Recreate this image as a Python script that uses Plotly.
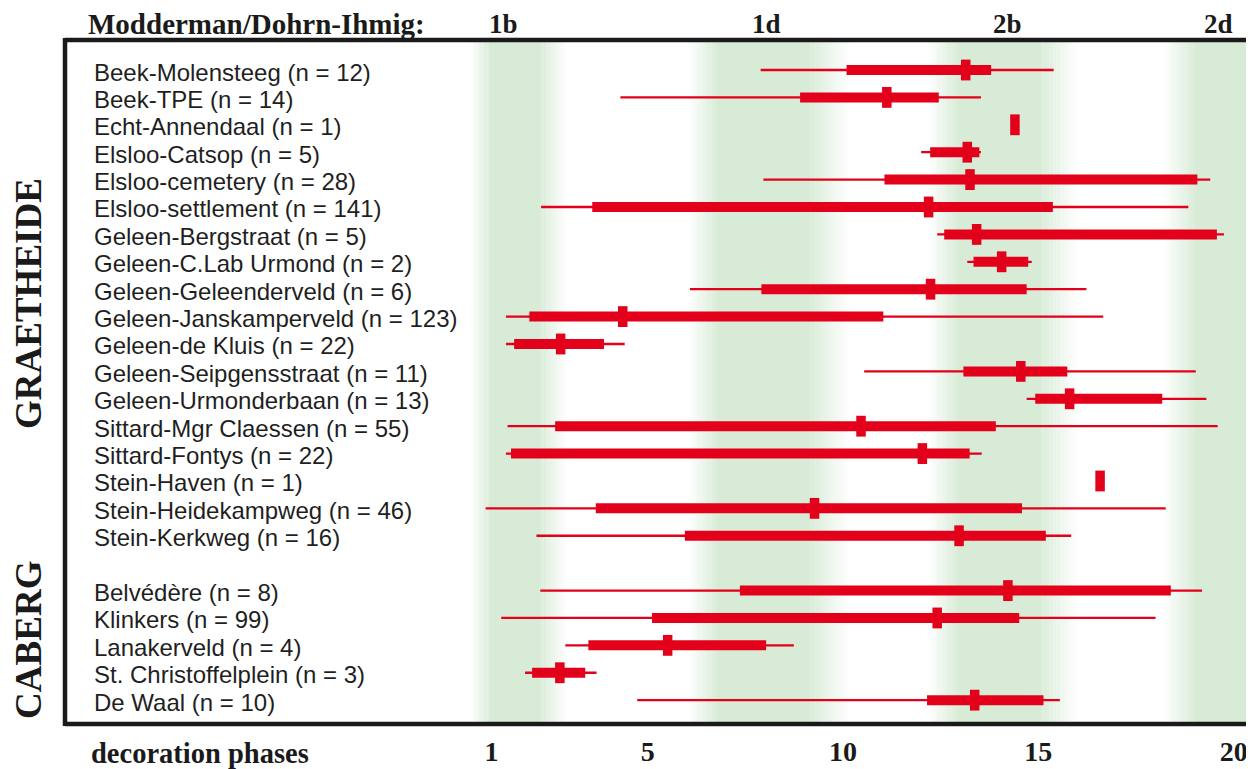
import plotly.graph_objects as go

# ---------------- data ----------------
sites = [
    "Beek-Molensteeg", "Beek-TPE", "Echt-Annendaal", "Elsloo-Catsop", "Elsloo-cemetery",
    "Elsloo-settlement", "Geleen-Bergstraat", "Geleen-C.Lab Urmond", "Geleen-Geleenderveld",
    "Geleen-Janskamperveld", "Geleen-de Kluis", "Geleen-Seipgensstraat", "Geleen-Urmonderbaan",
    "Sittard-Mgr Claessen", "Sittard-Fontys", "Stein-Haven", "Stein-Heidekampweg", "Stein-Kerkweg",
    "Belvédère", "Klinkers", "Lanakerveld", "St. Christoffelplein", "De Waal",
]
n_values = [12, 14, 1, 5, 28, 141, 5, 2, 6, 123, 22, 11, 13, 55, 22, 1, 46, 16, 8, 99, 4, 3, 10]
row_pos = [0, 1, 2, 3, 4, 5, 6, 7, 8, 9, 10, 11, 12, 13, 14, 15, 16, 17, 19, 20, 21, 22, 23]

phase_min = [7.89, 4.30, 14.40, 12.00, 7.96, 2.27, 12.41, 13.18, 6.08, 1.37, 1.37, 10.54, 14.70,
             1.41, 1.37, 16.58, 0.85, 2.15, 2.25, 1.25, 2.89, 1.86, 4.73]
phase_q1 = [10.09, 8.90, 14.40, 12.23, 11.06, 3.58, 12.59, 13.34, 7.91, 1.97, 1.58, 13.08, 14.92,
            2.63, 1.50, 16.58, 3.67, 5.95, 7.36, 5.11, 3.48, 2.04, 12.15]
phase_med = [13.14, 11.12, 14.40, 13.18, 13.25, 12.19, 13.42, 14.06, 12.24, 4.36, 2.77, 14.55, 15.80,
             10.46, 12.03, 16.58, 9.27, 12.97, 14.22, 12.41, 5.51, 2.75, 13.37]
phase_q3 = [13.79, 12.45, 14.40, 13.49, 19.07, 15.37, 19.57, 14.74, 14.70, 11.03, 3.88, 15.74, 18.17,
            13.91, 13.24, 16.58, 14.58, 15.19, 18.39, 14.51, 8.03, 3.40, 15.13]
phase_max = [15.39, 13.53, 14.40, 13.53, 19.40, 18.84, 19.75, 14.83, 16.23, 16.66, 4.41, 19.03, 19.30,
             19.59, 13.55, 16.58, 18.26, 15.84, 19.19, 18.00, 8.74, 3.69, 15.55]

tick_vals = [1, 5, 10, 15, 20]
tick_text = ["1", "5", "10", "15", "20"]

phase_names = ["1b", "1d", "2b", "2d"]
phase_label_x = [1.30, 8.05, 14.20, 19.60]
# band edges: fade start, solid start, solid end, fade end
band_edges = [
    (0.45, 0.96, 2.24, 2.93),
    (6.03, 6.77, 9.16, 10.18),
    (12.17, 12.92, 15.04, 16.02),
    (18.19, 19.00, 20.60, 20.60),
]

groups = ["GRAETHEIDE", "CABERG"]
group_center = [8.54, 20.8]

# ---------------- style ----------------
OFF = 8  # page body margin of the browser
W, H = 1254 - OFF, 769 - OFF
ML, MR, MT, MB = 65 - OFF, 0, 40 - OFF, 45
PW, PH = W - ML - MR, H - MT - MB
RED = "#e2001a"
GREEN = (216, 235, 215)
SERIF = "Liberation Serif"
SANS = "Liberation Sans"
X_RANGE = [-9.918, 20.52]
Y_RANGE = [23.87, -1.095]


def px_x(px):
    return (px - OFF - ML) / PW


def px_y(py):
    return (H - MB - (py - OFF)) / PH


fig = go.Figure()

wx, wy = [], []
bx, by = [], []
mx, my = [], []
for i in range(len(sites)):
    r = row_pos[i]
    if n_values[i] > 1:
        wx += [phase_min[i], phase_max[i], None]
        wy += [r, r, None]
        bx += [phase_q1[i], phase_q3[i], None]
        by += [r, r, None]
    mx += [phase_med[i], phase_med[i], None]
    my += [r - 0.38, r + 0.38, None]

fig.add_trace(go.Scatter(x=wx, y=wy, mode="lines", line=dict(color=RED, width=2.3),
                         hoverinfo="skip", showlegend=False))
fig.add_trace(go.Scatter(x=bx, y=by, mode="lines", line=dict(color=RED, width=10),
                         hoverinfo="skip", showlegend=False))
fig.add_trace(go.Scatter(x=mx, y=my, mode="lines", line=dict(color=RED, width=9.5),
                         hoverinfo="skip", showlegend=False))


def mix(t):
    r = round(255 + (GREEN[0] - 255) * t)
    g = round(255 + (GREEN[1] - 255) * t)
    b = round(255 + (GREEN[2] - 255) * t)
    return f"rgb({r},{g},{b})"


shapes = []
STEPS = 16
for a, b, c, d in band_edges:
    for k in range(STEPS):
        x0 = a + (b - a) * k / STEPS
        x1 = a + (b - a) * (k + 1) / STEPS + 0.002
        shapes.append(dict(type="rect", xref="x", yref="paper", x0=x0, x1=x1, y0=0, y1=1,
                           fillcolor=mix((k + 0.5) / STEPS), line=dict(width=0), layer="below"))
    shapes.append(dict(type="rect", xref="x", yref="paper", x0=b, x1=c, y0=0, y1=1,
                       fillcolor=mix(1), line=dict(width=0), layer="below"))
    if d > c:
        for k in range(STEPS):
            x0 = c + (d - c) * k / STEPS
            x1 = c + (d - c) * (k + 1) / STEPS + 0.002
            shapes.append(dict(type="rect", xref="x", yref="paper", x0=x0, x1=x1, y0=0, y1=1,
                               fillcolor=mix(1 - (k + 0.5) / STEPS), line=dict(width=0),
                               layer="below"))

FRAME = "#1a1a1a"
shapes.append(dict(type="line", xref="paper", yref="paper", x0=0, x1=0, y0=-0.003, y1=1.003,
                   line=dict(color=FRAME, width=4.5)))
shapes.append(dict(type="line", xref="paper", yref="paper", x0=0, x1=1, y0=1, y1=1,
                   line=dict(color=FRAME, width=4.5)))
shapes.append(dict(type="line", xref="paper", yref="paper", x0=0, x1=1, y0=0, y1=0,
                   line=dict(color=FRAME, width=4.5)))

annotations = []
label_x = -9.23
for i in range(len(sites)):
    annotations.append(dict(x=label_x, y=row_pos[i], xref="x", yref="y",
                            text=f"{sites[i]} (n = {n_values[i]})", showarrow=False,
                            xanchor="left", yanchor="middle", yshift=-2,
                            font=dict(family=SANS, size=24, color="#1f1f1f")))

for name, gx in zip(phase_names, phase_label_x):
    annotations.append(dict(x=gx, y=px_y(24), xref="x", yref="paper", text=f"<b>{name}</b>",
                            showarrow=False, xanchor="center", yanchor="middle",
                            font=dict(family=SERIF, size=27, color="#1a1a1a")))

annotations.append(dict(x=px_x(86), y=px_y(24), xref="paper", yref="paper",
                        text="<b>Modderman/Dohrn-Ihmig:</b>", showarrow=False,
                        xanchor="left", yanchor="middle",
                        font=dict(family=SERIF, size=29, color="#1a1a1a")))
annotations.append(dict(x=px_x(89), y=px_y(753), xref="paper", yref="paper",
                        text="<b>decoration phases</b>", showarrow=False,
                        xanchor="left", yanchor="middle",
                        font=dict(family=SERIF, size=28.5, color="#1a1a1a")))

for gname, gc in zip(groups, group_center):
    annotations.append(dict(x=px_x(29), y=gc, xref="paper", yref="y",
                            text=f"<b>{gname}</b>", showarrow=False, textangle=-90,
                            xanchor="center", yanchor="middle",
                            font=dict(family=SERIF, size=37, color="#1a1a1a")))

fig.update_layout(
    width=W, height=H,
    margin=dict(l=ML, r=MR, t=MT, b=MB, pad=0),
    paper_bgcolor="white", plot_bgcolor="white",
    shapes=shapes, annotations=annotations,
    xaxis=dict(range=X_RANGE, showgrid=False, zeroline=False, showline=False,
               tickvals=tick_vals, ticktext=[f"<b>{t}</b>" for t in tick_text],
               ticks="", ticklabelstandoff=8,
               tickfont=dict(family=SERIF, size=28, color="#1a1a1a"), fixedrange=True),
    yaxis=dict(range=Y_RANGE, showgrid=False, zeroline=False, showline=False,
               showticklabels=False, ticks="", fixedrange=True),
)

fig.write_html("out.html")
